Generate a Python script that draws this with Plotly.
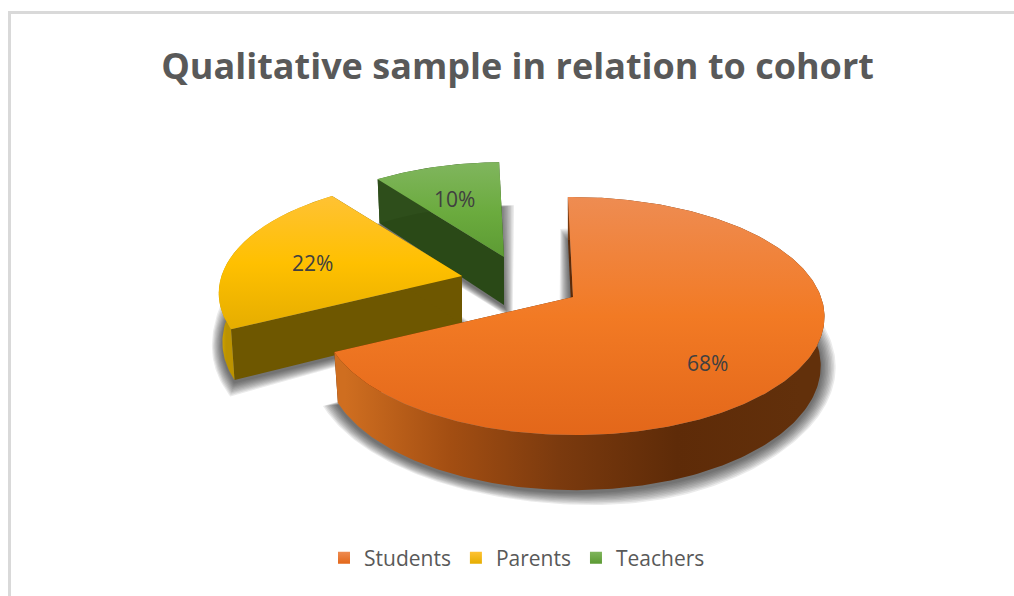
import math
import plotly.graph_objects as go

# Chart content
categories = ["Students", "Parents", "Teachers"]
shares = [68, 22, 10]
title_text = "Qualitative sample in relation to cohort"

# Colours: top-face gradient stops, rim wall stops, cut-face colour
top_colors = [
    ["#EE8C52", "#F27A24", "#E3671A"],
    ["#FFC233", "#FFC000", "#E5AD00"],
    ["#7FB55C", "#6BAB3E", "#5C9A33"],
]
rim_colors = [
    ["#CF6E20", "#A34E12", "#7B3A0E", "#5E2B08", "#62300B"],
    ["#CFA200", "#BC9300", "#BC9300", "#BC9300", "#BC9300"],
    ["#2E4E1B", "#2E4E1B", "#2E4E1B", "#2E4E1B", "#2E4E1B"],
]
rim_positions = [0, 0.23, 0.47, 0.73, 1]
face_colors = ["#5C2A08", "#6E5700", "#2A4917"]

# Scene layout: where each pulled-out wedge has its tip on the canvas, and its radius factor
tips = [(573, 297), (462, 276), (504, 257)]
radius_factors = [1.0, 0.97, 0.94]
gradient_spans = [(197, 435), (197, 330), (165, 260)]
rim_spans = [(345, 800), (222, 240), (378, 503)]
label_spots = [(707, 363), (312, 263), (454, 199)]

# Camera used to flatten the pie onto the canvas
ROTATION = -1.0
SEMI_X, SEMI_Y = 248.0, 116.0
DEPTH_GAIN = 0.16
DRIFT = 10.0
THICKNESS = 48.0
BASE_SHRINK = 0.015


def project(tip, angle, radius, depth):
    rad = math.radians(angle)
    shrink = 1 - BASE_SHRINK * depth
    px = radius * math.sin(rad) * shrink
    py = radius * math.cos(rad) * shrink
    s = 1 / (1 + DEPTH_GAIN * radius * math.cos(rad))
    return (
        tip[0] + SEMI_X * px * s + DRIFT * (s - 1),
        tip[1] - SEMI_Y * py * s + THICKNESS * depth * s,
    )


def arc(tip, a0, a1, radius, depth):
    n = max(2, int(abs(a1 - a0)))
    return [project(tip, a0 + (a1 - a0) * i / n, radius, depth) for i in range(n + 1)]


def scale(colors, positions=None):
    if positions is None:
        positions = [i / (len(colors) - 1) for i in range(len(colors))]
    return [[p, c] for p, c in zip(positions, colors)]


def poly(points, **kwargs):
    xs = [p[0] for p in points] + [points[0][0]]
    ys = [p[1] for p in points] + [points[0][1]]
    return go.Scatter(x=xs, y=ys, mode="lines", fill="toself", line=dict(width=0),
                      hoverinfo="skip", showlegend=False, **kwargs)


fig = go.Figure()

# Wedge extents follow from the shares
total = sum(shares)
extents = []
start = ROTATION
for v in shares:
    end = start + 360 * v / total
    extents.append((start, end))
    start = end

# Soft ground shadows, stacked translucent outlines
for tip, r, (a0, a1) in zip(tips, radius_factors, extents):
    outline = [project(tip, 0, 0, 1)] + arc(tip, a0, a1, r, 1)
    cx = sum(p[0] for p in outline) / len(outline)
    cy = sum(p[1] for p in outline) / len(outline)
    for grow in (15, 13.5, 12, 10.5, 9, 7.5, 6, 4.5, 3, 1.5):
        shifted = []
        for x, y in outline:
            d = math.hypot(x - cx, y - cy) or 1
            shifted.append((x + grow * (x - cx) / d, y + grow * (y - cy) / d + 2))
        fig.add_trace(poly(shifted, fillcolor="rgba(30,30,30,0.09)"))

# Back wedges first so the front wedge overlaps them
for i in (2, 1, 0):
    tip, r = tips[i], radius_factors[i]
    a0, a1 = extents[i]
    # Cut faces
    for a in (a0, a1):
        face = [project(tip, 0, 0, 0), project(tip, a, r, 0),
                project(tip, a, r, 1), project(tip, 0, 0, 1)]
        fig.add_trace(poly(face, fillcolor=face_colors[i]))
    # Outer wall
    wall = arc(tip, a0, a1, r, 0) + arc(tip, a1, a0, r, 1)
    fig.add_trace(poly(wall, fillgradient=dict(
        type="horizontal", colorscale=scale(rim_colors[i], rim_positions),
        start=rim_spans[i][0], stop=rim_spans[i][1])))
    # Top face
    top = [project(tip, 0, 0, 0)] + arc(tip, a0, a1, r, 0)
    fig.add_trace(poly(top, fillgradient=dict(
        type="vertical", colorscale=scale(top_colors[i]),
        start=gradient_spans[i][0], stop=gradient_spans[i][1])))

# Value labels
for v, (x, y) in zip(shares, label_spots):
    fig.add_annotation(x=x, y=y, text=f"{v}%", showarrow=False,
                       font=dict(family="Open Sans", size=21, color="#404040"))

# Legend entries
for name, stops in zip(categories, top_colors):
    fig.add_trace(go.Scatter(
        x=[None], y=[None], mode="markers", name=name,
        marker=dict(symbol="square", size=16, color=stops[0],
                    gradient=dict(type="vertical", color=stops[-1]))))

fig.update_layout(
    width=1014, height=596, autosize=False,
    margin=dict(l=0, r=0, t=0, b=0),
    paper_bgcolor="white", plot_bgcolor="white",
    title=dict(text=f"<b>{title_text}</b>", x=517.5 / 1014, xanchor="center",
               y=1 - 66 / 596, yanchor="middle",
               font=dict(family="Open Sans", size=36, color="#595959")),
    legend=dict(orientation="h", x=324 / 1014, xanchor="left", y=1 - 558 / 596, yanchor="middle",
                font=dict(family="Open Sans", size=21, color="#595959"),
                itemsizing="constant", itemclick=False, itemdoubleclick=False,
                bgcolor="rgba(0,0,0,0)"),
    xaxis=dict(range=[0, 1014], visible=False, fixedrange=True),
    yaxis=dict(range=[596, 0], visible=False, fixedrange=True),
    shapes=[dict(type="rect", xref="x", yref="y", x0=9.5, y0=12.5, x1=1040, y1=640,
                 line=dict(color="#D9D9D9", width=3), layer="below")],
)

fig.write_html("out.html", config=dict(displayModeBar=False))
